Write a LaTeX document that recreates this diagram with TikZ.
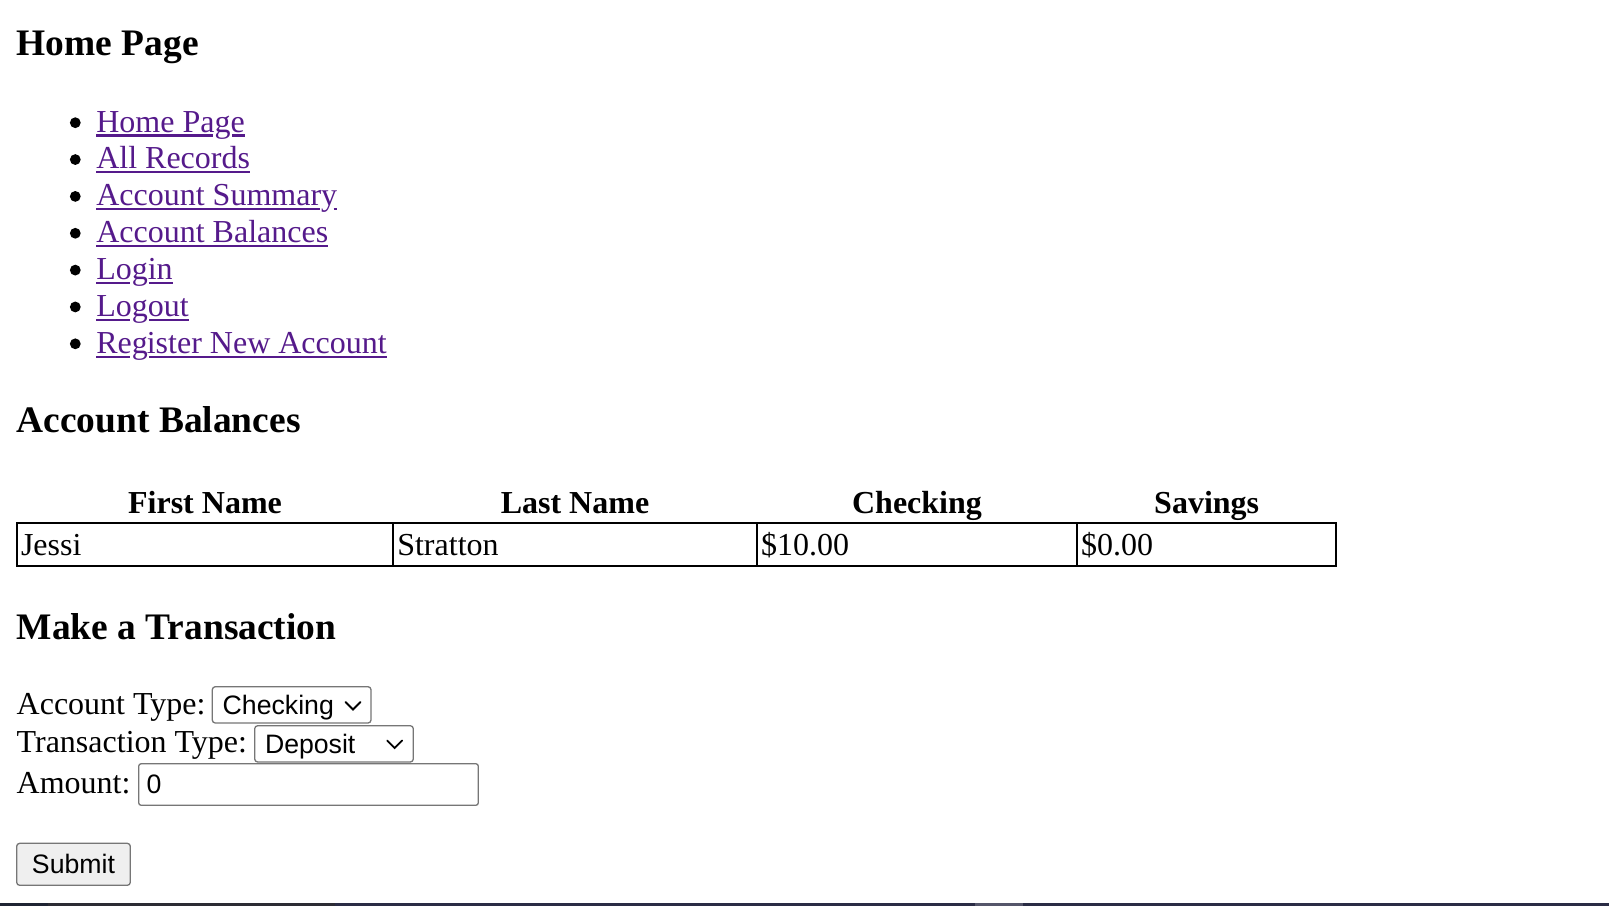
\documentclass[tikz,border=0pt]{standalone}
\usepackage{fontspec}
\setmainfont{Liberation Serif}
\newfontfamily\uisans{Liberation Sans}
\definecolor{linkc}{HTML}{551A8B}
\definecolor{ctlgray}{HTML}{767676}
\definecolor{btnfill}{HTML}{EFEFEF}
\definecolor{barA}{HTML}{1F2433}
\definecolor{barB}{HTML}{2C2C34}
\definecolor{barC}{HTML}{2A2C45}
\definecolor{barD}{HTML}{55566A}
\tikzset{
  txt/.style={anchor=base west, inner sep=0pt, outer sep=0pt, font=\fontsize{32}{36}\selectfont},
  lnk/.style={txt, text=linkc},
  hd/.style={anchor=base west, inner sep=0pt, outer sep=0pt, font=\fontsize{37.44}{42}\selectfont\bfseries},
  th/.style={anchor=base, inner sep=0pt, outer sep=0pt, font=\fontsize{32}{36}\selectfont\bfseries},
  ul/.style={draw=linkc, line width=2.2pt},
  bul/.style={fill=black},
  tbl/.style={draw=black, line width=2pt},
  ctl/.style={draw=ctlgray, line width=1.3pt, rounded corners=3pt},
  ui/.style={anchor=base west, inner sep=0pt, outer sep=0pt, font=\uisans\fontsize{26.67}{30}\selectfont},
  chev/.style={draw=black, line width=1.8pt, line cap=round, line join=miter},
}
\begin{document}
\begin{tikzpicture}[x=1pt, y=-1pt]
\useasboundingbox (0,0) rectangle (1609,906);
\fill[white] (0,0) rectangle (1609,906);

% Heading 1
\node[hd] (h1) at (16.7,55.5) {Home Page};

% Bullets
\foreach \k in {0,...,6} {
  \fill[bul] (75.3,{122.7+36.85*\k}) circle (5.4pt);
}

% Link 1: Home Page
\node[lnk] (l1a) at (96.3,132) {Home Pa};
\node[lnk] (l1b) at (l1a.base east) {g};
\node[lnk] (l1c) at (l1b.base east) {e};
\draw[ul] ([yshift=-3.5pt]l1a.base west) -- ([xshift=-1.5pt,yshift=-3.5pt]l1b.base west);
\draw[ul] ([xshift=1.5pt,yshift=-3.5pt]l1b.base east) -- ([yshift=-3.5pt]l1c.base east);

% Link 2: All Records
\node[lnk] (l2) at (96.3,168.85) {All Records};
\draw[ul] ([yshift=-3.5pt]l2.base west) -- ([yshift=-3.5pt]l2.base east);

% Link 3: Account Summary
\node[lnk] (l3a) at (96.3,205.7) {Account Summar};
\node[lnk] (l3b) at (l3a.base east) {y};
\draw[ul] ([yshift=-3.5pt]l3a.base west) -- ([xshift=-1pt,yshift=-3.5pt]l3b.base west);
\draw[ul] ([xshift=-3.5pt,yshift=-3.5pt]l3b.base east) -- ([yshift=-3.5pt]l3b.base east);

% Link 4: Account Balances
\node[lnk] (l4) at (96.3,242.55) {Account Balances};
\draw[ul] ([yshift=-3.5pt]l4.base west) -- ([yshift=-3.5pt]l4.base east);

% Link 5: Login
\node[lnk] (l5a) at (96.3,279.4) {Lo};
\node[lnk] (l5b) at (l5a.base east) {g};
\node[lnk] (l5c) at (l5b.base east) {in};
\draw[ul] ([yshift=-3.5pt]l5a.base west) -- ([xshift=-1.5pt,yshift=-3.5pt]l5b.base west);
\draw[ul] ([xshift=1.5pt,yshift=-3.5pt]l5b.base east) -- ([yshift=-3.5pt]l5c.base east);

% Link 6: Logout
\node[lnk] (l6a) at (96.3,316.25) {Lo};
\node[lnk] (l6b) at (l6a.base east) {g};
\node[lnk] (l6c) at (l6b.base east) {out};
\draw[ul] ([yshift=-3.5pt]l6a.base west) -- ([xshift=-1.5pt,yshift=-3.5pt]l6b.base west);
\draw[ul] ([xshift=1.5pt,yshift=-3.5pt]l6b.base east) -- ([yshift=-3.5pt]l6c.base east);

% Link 7: Register New Account
\node[lnk] (l7a) at (96.3,353.1) {Re};
\node[lnk] (l7b) at (l7a.base east) {g};
\node[lnk] (l7c) at ([xshift=-1pt]l7b.base east) {ister New Account};
\draw[ul] ([yshift=-3.5pt]l7a.base west) -- ([xshift=-1.5pt,yshift=-3.5pt]l7b.base west);
\draw[ul] ([xshift=1.5pt,yshift=-3.5pt]l7b.base east) -- ([yshift=-3.5pt]l7c.base east);

% Heading 2
\node[hd] (h2) at (16.7,432) {Account Balances};

% Table headers
\node[th] (c1) at (205,513) {First Name};
\node[th] (c2) at (575,513) {Last Name};
\node[th] (c3) at (917,513) {Checking};
\node[th] (c4) at (1206.7,513) {Savings};

% Table body
\draw[tbl] (17,523.3) rectangle (1336.3,566);
\draw[tbl] (393,523.3) -- (393,566);
\draw[tbl] (757,523.3) -- (757,566);
\draw[tbl] (1077,523.3) -- (1077,566);
\node[txt] (d1) at (21,555.5) {Jessi};
\node[txt] (d2) at (397.3,555.5) {Stratton};
\node[txt] (d3) at (761,555.5) {\$10.00};
\node[txt] (d4) at (1081,555.5) {\$0.00};

% Heading 3
\node[hd] (h3) at (16.7,639.5) {Make a Transaction};

% Form: Account Type
\node[txt] (f1) at (16.7,714) {Account Type:};
\draw[ctl] (212.3,686.7) rectangle (371,723);
\node[ui] (s1) at (222.7,714.5) {Checking};
\draw[chev] (345.5,702) -- (353,709.5) -- (360.5,702);

% Form: Transaction Type
\node[txt] (f2) at (16.7,752.7) {Transaction Type:};
\draw[ctl] (254.7,725.7) rectangle (413.3,762);
\node[ui] (s2) at (265,753.5) {Deposit};
\draw[chev] (387.2,740.5) -- (394.7,748) -- (402.2,740.5);

% Form: Amount
\node[txt] (f3) at (16.7,793.7) {Amount:};
\draw[ctl, rounded corners=2.5pt] (138.7,763.7) rectangle (478.3,805.3);
\node[ui] (s3) at (146.7,793) {0};

% Submit button
\draw[ctl, fill=btnfill] (16.7,843.3) rectangle (130.3,885.3);
\node[ui, anchor=base] (btn) at (73.5,873.2) {Submit};

% Bottom bar
\fill[barC] (0,903) rectangle (1609,906);
\fill[barA] (0,903) rectangle (48,906);
\fill[barB] (48,903) rectangle (335,906);
\fill[barD] (975,903) rectangle (1023,906);
\end{tikzpicture}
\end{document}
